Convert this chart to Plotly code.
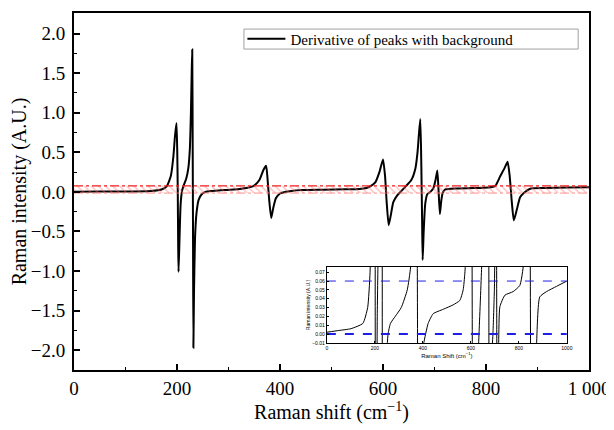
import plotly.graph_objects as go

# ---- data ----
shift_cm = [0, 50, 100, 150, 170, 180, 188, 193, 196, 199, 200.5, 201.5, 202.3, 203, 205, 207, 210, 214,
            218, 222, 225, 227, 228.5, 229.6, 230.5, 231.1, 231.8, 233, 235, 238, 242, 248, 255, 265,
            285, 310, 335, 349, 360, 368, 373, 376, 379, 383, 387, 392, 400, 404, 422, 443, 485, 526,
            554, 568, 575, 585, 593, 600, 604, 607, 611, 615, 620, 628, 634, 645, 655, 663, 667, 670,
            672.5, 674.5, 676, 677, 679, 682, 686, 692, 698, 702, 705.5, 708, 710.5, 713, 716, 721,
            742, 776, 804, 818, 827, 836, 842, 846, 850, 854, 860, 866, 874, 887, 915, 957, 1000]
intensity = [0.002, 0.004, 0.006, 0.012, 0.03, 0.07, 0.2, 0.45, 0.7, 0.87, 0.5, 0.0, -0.67, -1.01, -0.56, -0.16,
             0.02, 0.1, 0.17, 0.3, 0.55, 1.0, 1.5, 1.8, 0.5, -0.5, -1.97, -1.27, -0.58, -0.26, -0.1, -0.03,
             0.0, 0.012, 0.02, 0.03, 0.05, 0.076, 0.15, 0.28, 0.33, 0.15, -0.1, -0.33, -0.2, -0.08, -0.02,
             -0.01, 0.012, 0.023, 0.028, 0.033, 0.038, 0.05, 0.069, 0.12, 0.25, 0.41, 0.2, -0.12, -0.42,
             -0.3, -0.13, -0.04, 0.0, 0.076, 0.15, 0.3, 0.5, 0.75, 0.92, 0.3, -0.4, -0.86, -0.5, -0.15,
             -0.03, 0.0, 0.05, 0.15, 0.27, 0.0, -0.28, -0.12, -0.01, 0.031, 0.044, 0.048, 0.055, 0.076,
             0.19, 0.3, 0.38, 0.2, -0.12, -0.36, -0.22, -0.07, -0.01, 0.042, 0.048, 0.054, 0.06]

band_x = [0, 1000]
band_upper = 0.075
band_lower = -0.015
inset_thresholds = [0.06, 0.0]

x_tickvals = [0, 200, 400, 600, 800, 1000]
x_ticktext = ["0", "200", "400", "600", "800", "1 000"]
y_tickvals = [-2.0, -1.5, -1.0, -0.5, 0.0, 0.5, 1.0, 1.5, 2.0]
inset_ytickvals = [-0.01, 0.0, 0.01, 0.02, 0.03, 0.04, 0.05, 0.06, 0.07]

SERIF = "Liberation Serif"
SANS = "Liberation Sans"

fig = go.Figure()

# main curve
fig.add_trace(go.Scatter(x=shift_cm, y=intensity, mode="lines",
                         line=dict(color="black", width=2, shape="spline", smoothing=0.5),
                         name="Derivative of peaks with background",
                         xaxis="x", yaxis="y"))

# hatched red band
fig.add_trace(go.Scatter(x=band_x, y=[band_lower] * 2, mode="lines",
                         line=dict(color="rgba(255,120,120,0.8)", width=1, dash="dashdot"),
                         showlegend=False, hoverinfo="skip", xaxis="x", yaxis="y"))
fig.add_trace(go.Scatter(x=band_x, y=[band_upper] * 2, mode="lines",
                         line=dict(color="rgb(240,30,30)", width=1.2, dash="dashdot"),
                         fill="tonexty", fillcolor="rgba(0,0,0,0)",
                         fillpattern=dict(shape="\\", fgcolor="rgba(255,110,110,0.85)",
                                          bgcolor="rgba(0,0,0,0)", size=5, solidity=0.3),
                         showlegend=False, hoverinfo="skip", xaxis="x", yaxis="y"))

# inset
fig.add_trace(go.Scatter(x=shift_cm, y=intensity, mode="lines",
                         line=dict(color="black", width=1, shape="spline", smoothing=0.5),
                         showlegend=False, hoverinfo="skip", xaxis="x2", yaxis="y2"))
fig.add_trace(go.Scatter(x=band_x, y=[inset_thresholds[0]] * 2, mode="lines",
                         line=dict(color="rgb(30,30,230)", width=1, dash="dash"),
                         showlegend=False, hoverinfo="skip", xaxis="x2", yaxis="y2"))
fig.add_trace(go.Scatter(x=band_x, y=[inset_thresholds[1]] * 2, mode="lines",
                         line=dict(color="rgb(30,30,230)", width=2, dash="dash"),
                         showlegend=False, hoverinfo="skip", xaxis="x2", yaxis="y2"))

# page body has an 8px margin, so the figure is sized/offset to land the plot frame correctly
fig.update_layout(
    width=606, height=422,
    margin=dict(l=66, r=25, t=5, b=60),
    paper_bgcolor="white", plot_bgcolor="white",
    font=dict(family=SERIF, color="black"),
    showlegend=True,
    legend=dict(x=0.327, y=0.927, xanchor="left", yanchor="middle",
                orientation="h", entrywidth=290, itemwidth=38,
                borderwidth=0, bgcolor="rgba(0,0,0,0)",
                font=dict(family=SERIF, size=15, color="black"),
                tracegroupgap=0),
    shapes=[dict(type="rect", xref="paper", yref="paper",
                 x0=0.330, x1=0.979, y0=0.899, y1=0.955,
                 line=dict(color="rgb(160,160,160)", width=1),
                 fillcolor="rgba(0,0,0,0)", layer="above")],
    xaxis=dict(range=[0, 1000], tickvals=x_tickvals, ticktext=x_ticktext,
               automargin=False,
               ticks="inside", ticklen=6, tickwidth=1.5, tickcolor="black",
               ticklabelstandoff=0,
               minor=dict(dtick=100, ticks="inside", ticklen=3, tickwidth=1.2, tickcolor="black"),
               showline=True, linecolor="black", linewidth=2, mirror=True,
               showgrid=False, zeroline=False,
               tickfont=dict(family=SERIF, size=19),
               title=dict(text="Raman shift (cm<sup>−1</sup>)", font=dict(family=SERIF, size=20),
                          standoff=0)),
    yaxis=dict(range=[-2.25, 2.26], tickvals=y_tickvals, tickformat=".1f",
               automargin=False,
               ticks="inside", ticklen=6, tickwidth=1.5, tickcolor="black",
               ticklabelstandoff=3,
               minor=dict(dtick=0.25, ticks="inside", ticklen=3, tickwidth=1.2, tickcolor="black"),
               showline=True, linecolor="black", linewidth=2, mirror=True,
               showgrid=False, zeroline=False,
               tickfont=dict(family=SERIF, size=19),
               title=dict(text="Raman intensity (A.U.)", font=dict(family=SERIF, size=20),
                          standoff=0)),
    xaxis2=dict(domain=[0.491, 0.957], anchor="y2", range=[0, 1000], dtick=200,
                ticks="inside", ticklen=2, tickwidth=0.8, tickcolor="black",
                showline=True, linecolor="black", linewidth=1, mirror=True,
                showgrid=False, zeroline=False,
                tickfont=dict(family=SANS, size=5),
                title=dict(text="Raman Shift (cm<sup>−1</sup>)",
                           font=dict(family=SANS, size=6),
                           standoff=2)),
    yaxis2=dict(domain=[0.0756, 0.2885], anchor="x2", range=[-0.0102, 0.0759],
                tickvals=inset_ytickvals, tickformat=".2f",
                ticks="inside", ticklen=2, tickwidth=0.8, tickcolor="black",
                showline=True, linecolor="black", linewidth=1, mirror=True,
                showgrid=False, zeroline=False,
                tickfont=dict(family=SANS, size=5),
                title=dict(text="Raman intensity (A.U.)",
                           font=dict(family=SANS, size=5),
                           standoff=1)),
)

fig.write_html("out.html")
